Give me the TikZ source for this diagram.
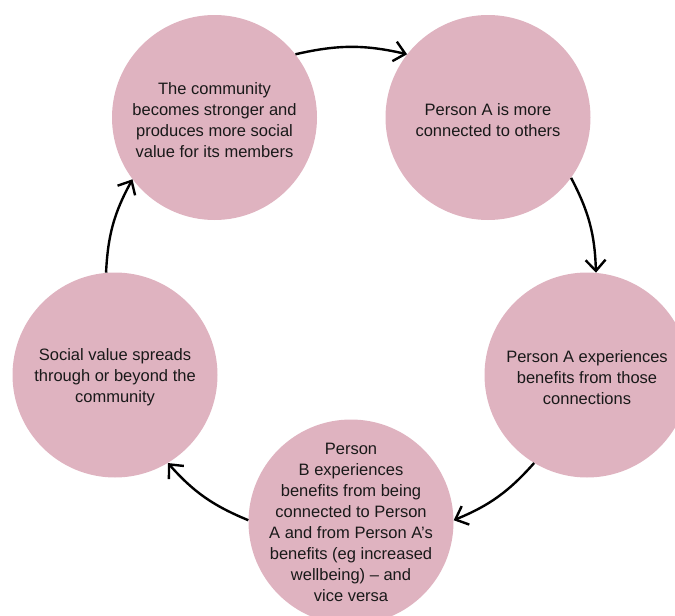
\documentclass[tikz,border=0pt]{standalone}
\usepackage{fontspec}
\setmainfont{Liberation Sans}
\usetikzlibrary{arrows.meta}
\definecolor{stagepink}{RGB}{223,179,192}
\tikzset{
  stage/.style={circle, fill=stagepink, minimum size=205pt, inner sep=0pt},
  stagetext/.style={align=center, inner sep=0pt, text=black!90, yshift=-2.5pt,
    font=\fontsize{16.5}{21}\selectfont},
  flow/.style={line width=2.4pt, -{Straight Barb[length=11pt,width=20pt,line width=2.4pt]}}
}

\begin{document}
\begin{tikzpicture}[x=1pt,y=-1pt]
    \useasboundingbox (0,0) rectangle (675,616);
    \clip (0,0) rectangle (675,616);
    % the five stages
    \node[stage] (tl) at (214.5,117.5) {};
    \node[stage] (tr) at (488,117.5) {};
    \node[stage] (rt) at (587,375) {};
    \node[stage] (bt) at (351,522) {};
    \node[stage] (lf) at (115,375) {};
    \node[stagetext] (tltext) at (tl) {The community\\becomes stronger and\\produces more social\\value for its members};
    \node[stagetext] (trtext) at (tr) {Person A is more\\connected to others};
    \node[stagetext] (rttext) at (rt) {Person A experiences\\benefits from those\\connections};
    \node[stagetext, yshift=2pt] (bttext) at (bt) {Person\\B experiences\\benefits from being\\connected to Person\\A and from Person A’s\\benefits (eg increased\\wellbeing) \textendash{} and\\vice versa};
    \node[stagetext] (lftext) at (lf) {Social value spreads\\through or beyond the\\community};
    % the cycle
    \draw[flow] (tl.38) to[bend left=13] (tr.142);
    \draw[flow] (tr.-36) to[bend left=13] (rt.85);
    \draw[flow] (rt.-121) to[bend left=13] (bt.1);
    \draw[flow] (bt.179) to[bend left=13] (lf.-59);
    \draw[flow] (lf.95) to[bend left=13] (tl.-143);
  \end{tikzpicture}
\end{document}
